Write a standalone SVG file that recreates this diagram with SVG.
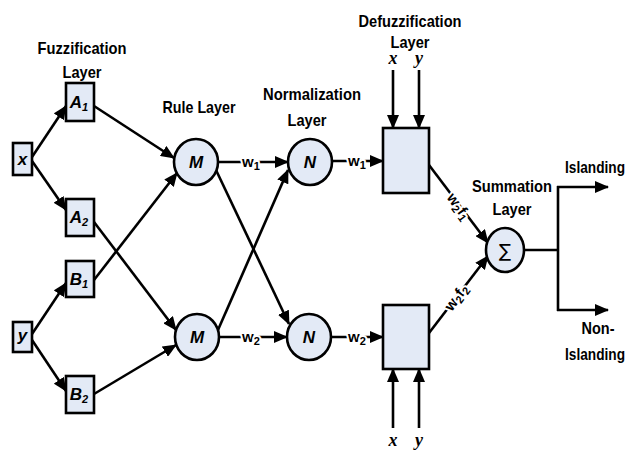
<svg xmlns="http://www.w3.org/2000/svg" width="641" height="451" viewBox="0 0 641 451">
<defs>
<marker id="ah" markerUnits="userSpaceOnUse" markerWidth="14" markerHeight="12" refX="13" refY="6" orient="auto"><path d="M0,0 L14,6 L0,12 z" fill="#000"/></marker>
<style>
.t{font-family:"Liberation Sans",Arial,sans-serif;font-weight:bold;font-size:17px;text-anchor:middle;fill:#000}
.n{font-family:"Liberation Sans",Arial,sans-serif;font-weight:bold;font-style:italic;font-size:17px;text-anchor:middle;fill:#000}
.v{font-family:"Liberation Serif","Times New Roman",serif;font-weight:bold;font-style:italic;font-size:18px;text-anchor:middle;fill:#000}
.w{font-family:"Liberation Sans",Arial,sans-serif;font-weight:bold;font-size:15px;text-anchor:middle;fill:#000;stroke:#fff;stroke-width:4px;paint-order:stroke;stroke-linejoin:round}
.box{fill:#E3EAF6;stroke:#000;stroke-width:2.6}
.c{stroke:#000;stroke-width:2.6;fill:none}
.a{marker-end:url(#ah)}
</style>
</defs>
<g id="titles">
<text class="t" x="82" y="54" textLength="89" lengthAdjust="spacingAndGlyphs">Fuzzification</text>
<text class="t" x="82" y="78" textLength="39" lengthAdjust="spacingAndGlyphs">Layer</text>
<text class="t" x="199" y="113" textLength="73" lengthAdjust="spacingAndGlyphs">Rule Layer</text>
<text class="t" x="312" y="100" textLength="98" lengthAdjust="spacingAndGlyphs">Normalization</text>
<text class="t" x="307" y="126" textLength="39" lengthAdjust="spacingAndGlyphs">Layer</text>
<text class="t" x="410" y="27" textLength="103" lengthAdjust="spacingAndGlyphs">Defuzzification</text>
<text class="t" x="410" y="48" textLength="39" lengthAdjust="spacingAndGlyphs">Layer</text>
<text class="t" x="512" y="192" textLength="80" lengthAdjust="spacingAndGlyphs">Summation</text>
<text class="t" x="512" y="215" textLength="39" lengthAdjust="spacingAndGlyphs">Layer</text>
<text class="t" x="595" y="173" textLength="60" lengthAdjust="spacingAndGlyphs">Islanding</text>
<text class="t" x="598" y="334" textLength="33" lengthAdjust="spacingAndGlyphs">Non-</text>
<text class="t" x="595" y="360" textLength="60" lengthAdjust="spacingAndGlyphs">Islanding</text>
<text class="v" x="393" y="64">x</text>
<text class="v" x="419" y="64">y</text>
<text class="v" x="393" y="446">x</text>
<text class="v" x="419" y="446">y</text>
</g>
<g id="connectors">
<path class="c a" d="M32,157 L66,106"/>
<path class="c a" d="M32,161 L66,210"/>
<path class="c a" d="M32,334 L66,283"/>
<path class="c a" d="M32,340 L66,391"/>
<path class="c a" d="M94,106 L174,158"/>
<path class="c a" d="M94,280 L177,173"/>
<path class="c a" d="M94,222 L176,330"/>
<path class="c a" d="M94,394 L176,345"/>
<path class="c a" d="M218,162 L288,162"/>
<path class="c a" d="M332,161 L383,161"/>
<path class="c a" d="M216,170 L289,324"/>
<path class="c a" d="M218,330 L288,170"/>
<path class="c a" d="M219,337 L287,337"/>
<path class="c a" d="M331,337 L383,337"/>
<path class="c a" d="M393,70 L393,128"/>
<path class="c a" d="M419,70 L419,128"/>
<path class="c a" d="M393,428 L393,369"/>
<path class="c a" d="M419,428 L419,369"/>
<path class="c a" d="M429,165 L488,243"/>
<path class="c a" d="M429,333 L488,256"/>
<path class="c" d="M524,250 L558,250 M558,186 L558,311"/>
<path class="c a" d="M557,187 L608,187"/>
<path class="c a" d="M557,310 L608,310"/>
<text class="w" x="251" y="167">w<tspan font-size="11" dy="3">1</tspan></text>
<text class="w" x="357" y="166">w<tspan font-size="11" dy="3">1</tspan></text>
<text class="w" x="251" y="342">w<tspan font-size="11" dy="3">2</tspan></text>
<text class="w" x="357" y="342">w<tspan font-size="11" dy="3">2</tspan></text>
<text class="w" transform="translate(458,207) rotate(54)" x="0" y="4">w<tspan font-size="11" dy="3">2</tspan><tspan dy="-3">f</tspan><tspan font-size="11" dy="3">1</tspan></text>
<text class="w" transform="translate(457,298) rotate(-54)" x="0" y="4">w<tspan font-size="11" dy="3">2</tspan><tspan dy="-3">f</tspan><tspan font-size="11" dy="3">2</tspan></text>
</g>
<g id="node-x"><rect class="box" x="13" y="143" width="19" height="32"/><text class="n" x="22.5" y="165">x</text></g>
<g id="node-A1"><rect class="box" x="66" y="83" width="28" height="38"/><text class="n" x="79" y="108">A<tspan font-size="11" dy="3">1</tspan></text></g>
<g id="node-A2"><rect class="box" x="66" y="199" width="28" height="37"/><text class="n" x="79" y="223">A<tspan font-size="11" dy="3">2</tspan></text></g>
<g id="node-B1"><rect class="box" x="66" y="261" width="28" height="36"/><text class="n" x="79" y="285">B<tspan font-size="11" dy="3">1</tspan></text></g>
<g id="node-y"><rect class="box" x="13" y="322" width="19" height="30"/><text class="n" x="22.5" y="341">y</text></g>
<g id="node-B2"><rect class="box" x="66" y="376" width="28" height="37"/><text class="n" x="79" y="400">B<tspan font-size="11" dy="3">2</tspan></text></g>
<g id="node-M1"><ellipse class="box" cx="196" cy="162" rx="22" ry="23"/><text class="n" x="196" y="168">M</text></g>
<g id="node-M2"><ellipse class="box" cx="197" cy="337" rx="22" ry="23"/><text class="n" x="197" y="343">M</text></g>
<g id="node-N1"><ellipse class="box" cx="310" cy="162" rx="22" ry="23"/><text class="n" x="310" y="168">N</text></g>
<g id="node-N2"><ellipse class="box" cx="309" cy="337" rx="22" ry="23"/><text class="n" x="309" y="343">N</text></g>
<g id="node-D1"><rect class="box" x="383" y="128" width="46" height="65"/></g>
<g id="node-D2"><rect class="box" x="383" y="305" width="46" height="64"/></g>
<g id="node-sum"><ellipse class="box" cx="505" cy="250" rx="19" ry="22"/><text x="505" y="257" text-anchor="middle" font-family="DejaVu Sans, sans-serif" font-size="18">∑</text></g>
</svg>
